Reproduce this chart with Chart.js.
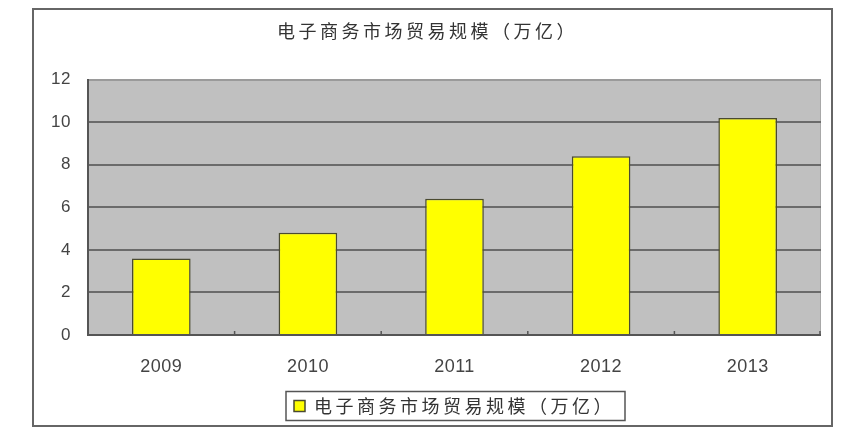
<!DOCTYPE html>
<html>
<head>
<meta charset="utf-8">
<script src="https://cdn.jsdelivr.net/npm/chart.js@4.4.1/dist/chart.umd.min.js"></script>
<style>
  html, body { margin: 0; padding: 0; background: #fff; }
  #frame {
    position: absolute; left: 32px; top: 8px;
    width: 797px; height: 415px;
    border: 2px solid #666;
    background: #fff;
  }
</style>
</head>
<body>
<div id="frame"><canvas id="c"></canvas></div>
<script>
// 数据
const years = ['2009', '2010', '2011', '2012', '2013'];
const tradeScale = [3.6, 4.8, 6.4, 8.4, 10.2];
const yTicks = [0, 2, 4, 6, 8, 10, 12];
const seriesName = '电子商务市场贸易规模（万亿）';

const cjkFont = '"Noto Sans CJK SC", "Noto Sans", sans-serif';
const numFont = '"Liberation Sans", Arial, sans-serif';

// 字间距 + 绘图区背景 + 刻度 + 图例边框
const decoPlugin = {
  id: 'deco',
  beforeUpdate(chart) { chart.ctx.letterSpacing = '3.5px'; },
  beforeDraw(chart) {
    const {ctx, chartArea: a} = chart;
    ctx.letterSpacing = '3.5px';
    ctx.save();
    ctx.fillStyle = '#c0c0c0';
    ctx.fillRect(a.left, a.top, a.right - a.left, a.bottom - a.top);
    ctx.strokeStyle = '#a8a8a8';
    ctx.lineWidth = 1;
    ctx.beginPath();
    ctx.moveTo(a.right - 0.5, a.top);
    ctx.lineTo(a.right - 0.5, a.bottom);
    ctx.stroke();
    ctx.restore();
  },
  afterDatasetsDraw(chart) {
    const {ctx, chartArea: a, scales: {x}} = chart;
    ctx.save();
    ctx.strokeStyle = '#555';
    ctx.lineWidth = 2;
    ctx.beginPath();
    ctx.moveTo(a.left, a.bottom);
    ctx.lineTo(a.right, a.bottom);
    ctx.stroke();
    ctx.lineWidth = 1.5;
    ctx.beginPath();
    for (let i = 1; i <= years.length; i++) {
      const px = i < years.length
        ? (x.getPixelForValue(i - 1) + x.getPixelForValue(i)) / 2
        : a.right - 1;
      ctx.moveTo(px, a.bottom);
      ctx.lineTo(px, a.bottom - 4);
    }
    ctx.stroke();
    ctx.restore();
    // 刻度文字在此之后绘制 (ticks.z = 1)
    ctx.letterSpacing = '0.5px';
  },
  afterDraw(chart) {
    const lg = chart.legend;
    if (!lg || !lg.legendHitBoxes || !lg.legendHitBoxes.length) return;
    const hb = lg.legendHitBoxes[0];
    const cy = hb.top + hb.height / 2;
    const ctx = chart.ctx;
    ctx.save();
    ctx.strokeStyle = '#555';
    ctx.lineWidth = 1.5;
    ctx.strokeRect(hb.left - 8, cy - 14.5, hb.width + 18, 29);
    ctx.restore();
  }
};

new Chart(document.getElementById('c'), {
  type: 'bar',
  data: {
    labels: years,
    datasets: [{
      label: seriesName,
      data: tradeScale,
      backgroundColor: '#ffff00',
      borderColor: '#4a4a30',
      borderWidth: 1.5,
      barPercentage: 0.5,
      categoryPercentage: 0.8
    }]
  },
  options: {
    responsive: true,
    maintainAspectRatio: false,
    animation: false,
    layout: { padding: { left: 0, right: 10, top: 0, bottom: 0 } },
    plugins: {
      title: {
        display: true,
        text: seriesName,
        color: '#333',
        font: { family: cjkFont, size: 18, weight: 'normal' },
        padding: { top: 10, bottom: 38 }
      },
      legend: {
        position: 'bottom',
        fullSize: false,
        labels: {
          color: '#333',
          font: { family: cjkFont, size: 18 },
          boxWidth: 11,
          boxHeight: 11,
          padding: 10
        }
      },
      tooltip: { enabled: false }
    },
    scales: {
      x: {
        grid: { display: false, drawTicks: false, tickLength: 0 },
        border: { display: false },
        ticks: { color: '#444', font: { family: numFont, size: 18 }, padding: 21, z: 1 },
        afterFit(scale) { scale.height = 52; }
      },
      y: {
        min: 0,
        max: 12,
        afterBuildTicks(scale) { scale.ticks = yTicks.map(v => ({ value: v })); },
        grid: {
          drawTicks: false,
          lineWidth: 2,
          color: ctx => ctx.tick.value === 12 ? '#9a9a9a' : '#6b6b6b'
        },
        border: { display: true, color: '#555', width: 2 },
        ticks: { color: '#444', font: { family: numFont, size: 17 }, padding: 17, z: 1 },
        afterFit(scale) { scale.width = 54; }
      }
    }
  },
  plugins: [decoPlugin]
});
</script>
</body>
</html>
